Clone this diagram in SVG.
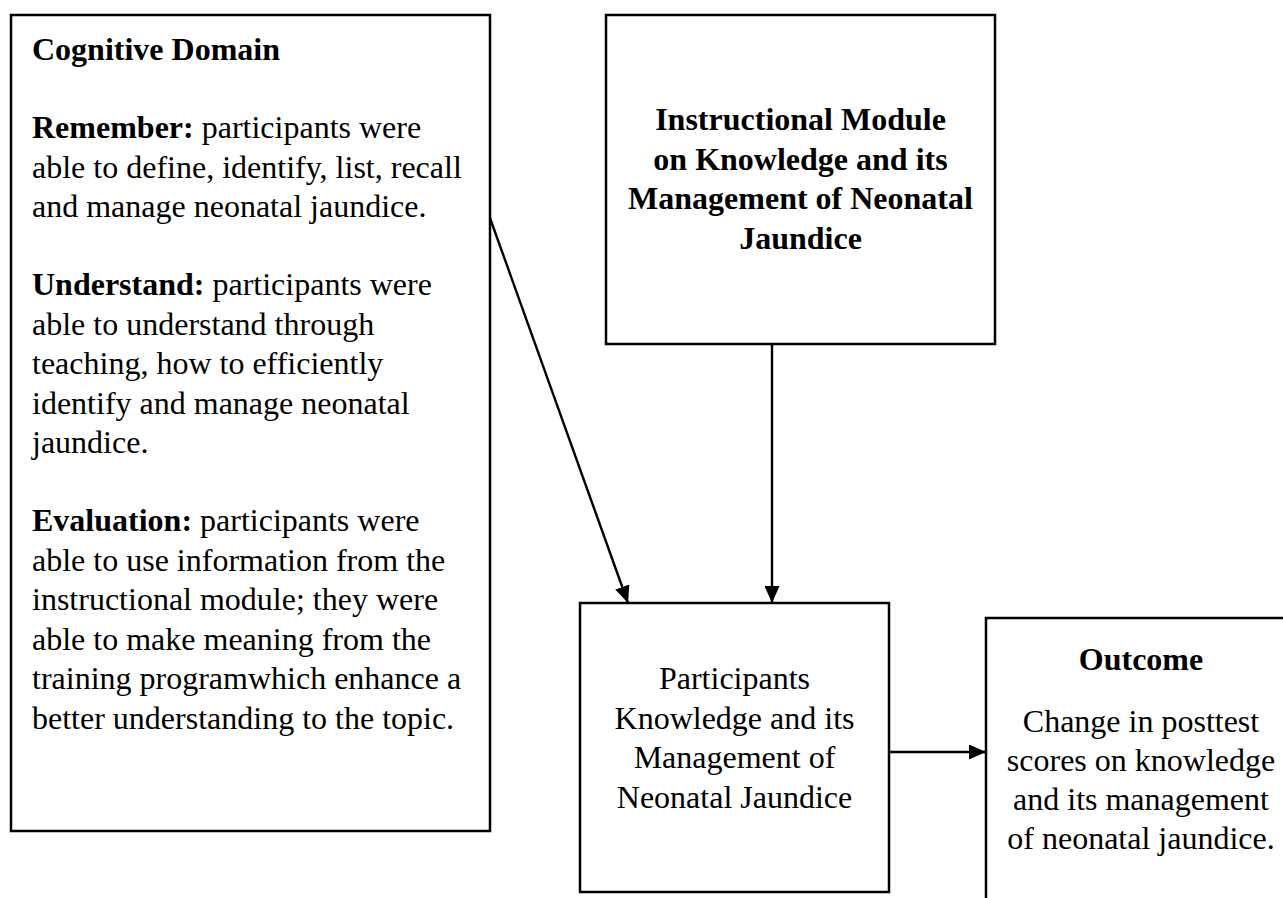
<svg xmlns="http://www.w3.org/2000/svg" width="1283" height="898" viewBox="0 0 1283 898">
<style>
.box{fill:#fff;stroke:#000;stroke-width:2.5}
.t{font-family:"Liberation Serif","Times New Roman",serif;font-size:32px;fill:#000}
.b{font-weight:bold}
.c{text-anchor:middle}
.conn{stroke:#000;stroke-width:2.4;fill:none}
</style>
<defs>
<marker id="ah" viewBox="0 0 17 15" refX="17" refY="7.5" markerWidth="17" markerHeight="15" markerUnits="userSpaceOnUse" orient="auto">
<path d="M0,0 L17,7.5 L0,15 Z" fill="#000"/>
</marker>
</defs>
<rect width="1283" height="898" fill="#fff"/>
<g id="cognitive-domain">
<rect class="box" x="11" y="15" width="479" height="816"/>
<text class="t b" x="32" y="60">Cognitive Domain</text>
<text class="t" x="32" y="138"><tspan class="b">Remember:</tspan> participants were</text>
<text class="t" x="32" y="177.5">able to define, identify, list, recall</text>
<text class="t" x="32" y="217">and manage neonatal jaundice.</text>
<text class="t" x="32" y="295"><tspan class="b">Understand:</tspan> participants were</text>
<text class="t" x="32" y="334.5">able to understand through</text>
<text class="t" x="32" y="374">teaching, how to efficiently</text>
<text class="t" x="32" y="413.5">identify and manage neonatal</text>
<text class="t" x="32" y="453">jaundice.</text>
<text class="t" x="32" y="531"><tspan class="b">Evaluation:</tspan> participants were</text>
<text class="t" x="32" y="570.5">able to use information from the</text>
<text class="t" x="32" y="610">instructional module; they were</text>
<text class="t" x="32" y="649.5">able to make meaning from the</text>
<text class="t" x="32" y="689">training programwhich enhance a</text>
<text class="t" x="32" y="728.5">better understanding to the topic.</text>
</g>
<g id="instructional-module">
<rect class="box" x="606" y="15" width="389" height="329"/>
<text class="t b c" x="800.5" y="130">Instructional Module</text>
<text class="t b c" x="800.5" y="169.5">on Knowledge and its</text>
<text class="t b c" x="800.5" y="209">Management of Neonatal</text>
<text class="t b c" x="800.5" y="248.5">Jaundice</text>
</g>
<g id="participants">
<rect class="box" x="580" y="603" width="309" height="289"/>
<text class="t c" x="734.5" y="689">Participants</text>
<text class="t c" x="734.5" y="728.5">Knowledge and its</text>
<text class="t c" x="734.5" y="768">Management of</text>
<text class="t c" x="734.5" y="807.5">Neonatal Jaundice</text>
</g>
<g id="outcome">
<rect class="box" x="986" y="618" width="320" height="300"/>
<text class="t b c" x="1141" y="670">Outcome</text>
<text class="t c" x="1141" y="732">Change in posttest</text>
<text class="t c" x="1141" y="771">scores on knowledge</text>
<text class="t c" x="1141" y="810">and its management</text>
<text class="t c" x="1141" y="849">of neonatal jaundice.</text>
</g>
<g id="connectors">
<line class="conn" x1="490" y1="218" x2="628" y2="603" marker-end="url(#ah)"/>
<line class="conn" x1="772" y1="344" x2="772" y2="603" marker-end="url(#ah)"/>
<line class="conn" x1="889" y1="752" x2="986" y2="752" marker-end="url(#ah)"/>
</g>
</svg>
